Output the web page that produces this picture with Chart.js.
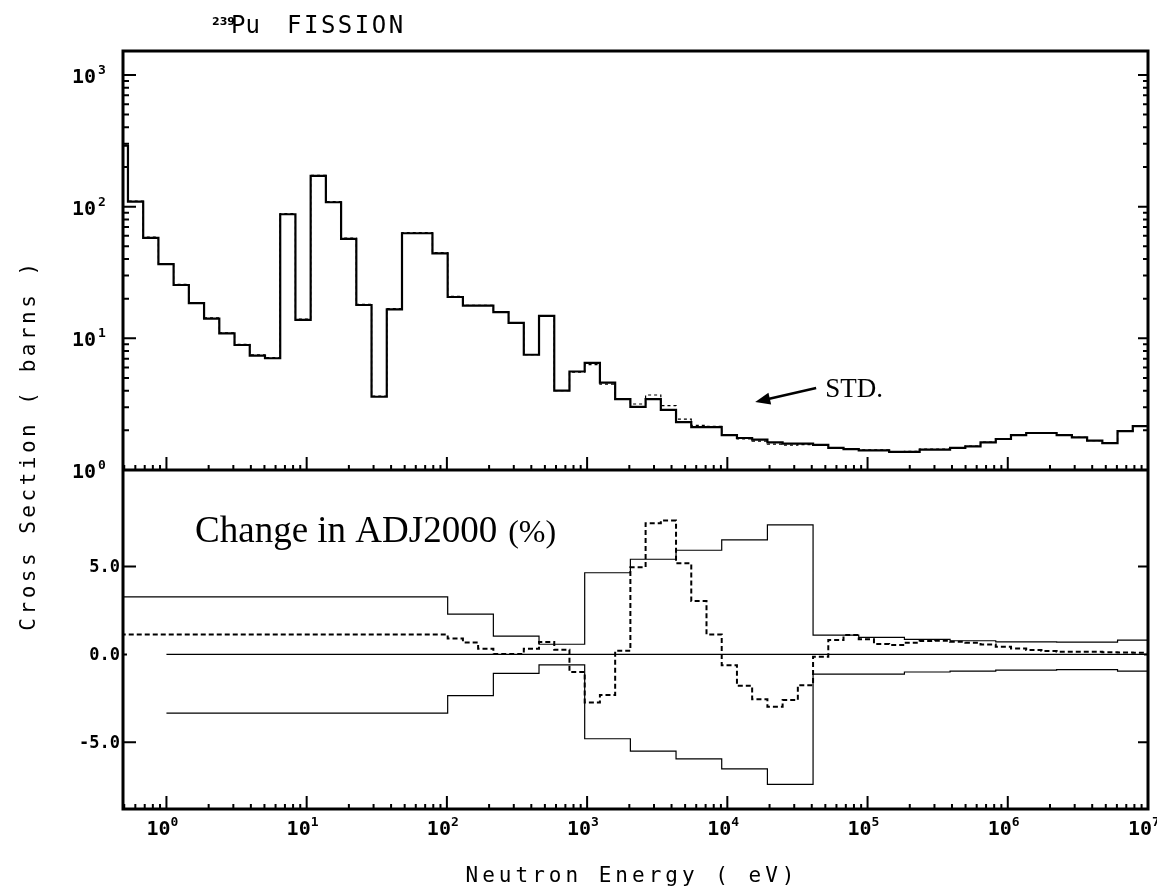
<!DOCTYPE html>
<html>
<head>
<meta charset="utf-8">
<title>239Pu fission</title>
<script src="https://cdn.jsdelivr.net/npm/chart.js@4.4.1/dist/chart.umd.min.js"></script>
<style>
    html, body { margin: 0; padding: 0; background: #fff; }
    #wrap { position: relative; width: 1157px; height: 894px; }
</style>
</head>
<body>
<div id="wrap"><canvas id="fissionChart" width="1157" height="894"></canvas></div>
<script>
// group boundaries (eV), group 1 = highest energy
const groupEdges = [
    1.0e7, 7.788e6, 6.065e6, 4.724e6, 3.679e6, 2.865e6, 2.231e6, 1.738e6, 1.353e6, 1.054e6,
    8.208e5, 6.393e5, 4.979e5, 3.877e5, 3.020e5, 2.352e5, 1.832e5, 1.426e5, 1.111e5, 8.652e4,
    6.738e4, 5.248e4, 4.087e4, 3.183e4, 2.479e4, 1.931e4, 1.503e4, 1.171e4, 9.119e3, 7.102e3,
    5.531e3, 4.307e3, 3.355e3, 2.613e3, 2.035e3, 1.585e3, 1.234e3, 961.1, 748.5, 583.0,
    454.0, 353.6, 275.4, 214.5, 167.0, 130.1, 101.3, 78.89, 61.44, 47.85,
    37.27, 29.02, 22.60, 17.60, 13.71, 10.68, 8.315, 6.476, 5.044, 3.928,
    3.059, 2.382, 1.855, 1.445, 1.125, 0.8764, 0.6826, 0.5316, 0.4140
];

// 239Pu fission cross section, standard (barns), groups 1..68
const stdFission = [
    2.15, 1.97, 1.60, 1.67, 1.77, 1.84, 1.91, 1.91, 1.84, 1.72,
    1.62, 1.51, 1.47, 1.43, 1.43, 1.375, 1.375, 1.41, 1.41, 1.44,
    1.47, 1.55, 1.585, 1.585, 1.62, 1.70, 1.75, 1.84, 2.12, 2.12,
    2.31, 2.86, 3.45, 3.02, 3.45, 4.6, 6.5, 5.6, 4.0, 14.8,
    7.5, 13.1, 15.8, 17.7, 17.7, 20.6, 44.2, 62.8, 62.8, 16.6,
    3.6, 17.9, 57, 108, 171, 13.8, 87.5, 7.06, 7.4, 8.9,
    10.9, 14.1, 18.5, 25.4, 36.6, 58, 109, 290
];

// adjusted cross section (dotted in the upper panel)
const adjFission = [
    2.15, 1.97, 1.60, 1.67, 1.77, 1.84, 1.91, 1.91, 1.85, 1.73,
    1.63, 1.52, 1.48, 1.44, 1.44, 1.385, 1.38, 1.42, 1.42, 1.455,
    1.48, 1.55, 1.557, 1.544, 1.572, 1.657, 1.719, 1.83, 2.144, 2.184,
    2.43, 3.08, 3.71, 3.17, 3.46, 4.49, 6.32, 5.54, 4.01, 14.9,
    7.52, 13.1, 15.8, 17.76, 17.82, 20.8, 44.7, 63.5, 63.5, 16.8,
    3.64, 18.1, 57.6, 109, 173, 14.0, 88.5, 7.14, 7.48, 9.0,
    11.0, 14.3, 18.7, 25.7, 37.0, 58.7, 110, 293
];

// change in ADJ2000 (%)
const changePct = [
    0.10, 0.11, 0.13, 0.15, 0.15, 0.15, 0.19, 0.25, 0.34, 0.44,
    0.57, 0.67, 0.72, 0.78, 0.76, 0.67, 0.53, 0.59, 0.86, 1.10,
    0.82, -0.13, -1.75, -2.60, -2.98, -2.55, -1.79, -0.61, 1.14, 3.04,
    5.19, 7.62, 7.47, 4.97, 0.21, -2.31, -2.73, -1.00, 0.26, 0.71,
    0.33, 0.03, 0.03, 0.33, 0.68, 0.90, 1.14, 1.14, 1.14, 1.14,
    1.14, 1.14, 1.14, 1.14, 1.14, 1.14, 1.14, 1.14, 1.14, 1.14,
    1.14, 1.14, 1.14, 1.14, 1.14, 1.14, 1.14, 1.14
];

// uncertainty band (%)
const uncUpper = [
    0.82, 0.82, 0.70, 0.70, 0.70, 0.70, 0.72, 0.72, 0.72, 0.72,
    0.78, 0.78, 0.78, 0.86, 0.86, 0.86, 0.97, 0.97, 0.97, 1.10,
    1.10, 1.10, 7.38, 7.38, 7.38, 6.52, 6.52, 6.52, 5.93, 5.93,
    5.93, 5.42, 5.42, 5.42, 4.65, 4.65, 4.65, 0.58, 0.58, 0.58,
    1.04, 1.04, 1.04, 2.30, 2.30, 2.30, 3.28, 3.28, 3.28, 3.28,
    3.28, 3.28, 3.28, 3.28, 3.28, 3.28, 3.28, 3.28, 3.28, 3.28,
    3.28, 3.28, 3.28, 3.28, 3.28, 3.28, 3.28, 3.28
];
const uncLower = [
    -0.95, -0.95, -0.86, -0.86, -0.86, -0.86, -0.89, -0.89, -0.89, -0.89,
    -0.95, -0.95, -0.95, -1.00, -1.00, -1.00, -1.12, -1.12, -1.12, -1.12,
    -1.12, -1.12, -7.40, -7.40, -7.40, -6.52, -6.52, -6.52, -5.95, -5.95,
    -5.95, -5.51, -5.51, -5.51, -4.80, -4.80, -4.80, -0.60, -0.60, -0.60,
    -1.08, -1.08, -1.08, -2.34, -2.34, -2.34, -3.34, -3.34, -3.34, -3.34,
    -3.34, -3.34, -3.34, -3.34, -3.34, -3.34, -3.34, -3.34, -3.34, -3.34,
    -3.34, -3.34, -3.34, -3.34, -3.34
];
const lowerStartE = 1.0;
const zeroLineE = [1.0, 1.0e7];

// axis ticks
const xDecadeExps = [0, 1, 2, 3, 4, 5, 6, 7];
const yTopDecadeExps = [0, 1, 2, 3];
const yBotTicks = [-5, 0, 5];
const yBotTickLabels = ['-5.0', '0.0', '5.0'];


// step points: one point at each lower edge, plus the top edge
function histogramPoints(values, startE) {
    const pts = [];
    for (let i = values.length - 1; i >= 0; i--) {
        if (startE && groupEdges[i] <= startE) continue;
        const lo = groupEdges[i + 1];
        pts.push({ x: startE ? Math.max(lo, startE) : lo, y: values[i] });
    }
    pts.push({ x: groupEdges[0], y: values[0] });
    return pts;
}

function stepLine(data, axis, width, dash) {
    return {
        data: data,
        yAxisID: axis,
        borderColor: '#000',
        borderWidth: width,
        borderDash: dash || [],
        stepped: 'before',
        pointRadius: 0,
        fill: false,
    };
}

const MONO = '"DejaVu Sans Mono", "Liberation Mono", monospace';
const SERIF = '"Liberation Serif", "Times New Roman", serif';

const frameAndLabels = {
    id: 'frameAndLabels',
    afterDraw(chart) {
        const ctx = chart.ctx;
        const xs = chart.scales.x, yt = chart.scales.yTop, yb = chart.scales.yBot;
        const left = chart.chartArea.left, right = chart.chartArea.right;
        const top = yt.top, mid = yt.bottom, bottom = yb.bottom;

        ctx.save();
        ctx.strokeStyle = '#000';
        ctx.fillStyle = '#000';

        // frame of both panels
        ctx.lineWidth = 3;
        ctx.strokeRect(left, top, right - left, bottom - top);
        ctx.beginPath();
        ctx.moveTo(left, mid);
        ctx.lineTo(right, mid);
        ctx.stroke();

        // x ticks on the lower edge of each panel
        ctx.lineWidth = 2;
        ctx.beginPath();
        for (let e = -1; e <= 7; e++) {
            for (let m = 1; m <= 9; m++) {
                const v = m * Math.pow(10, e);
                if (v < xs.min || v > xs.max * 1.0001) continue;
                const px = xs.getPixelForValue(v);
                const len = m === 1 ? 13 : 5;
                [mid, bottom].forEach(yy => {
                    ctx.moveTo(px, yy);
                    ctx.lineTo(px, yy - len);
                });
            }
        }
        // log y ticks, upper panel
        for (let e = 0; e <= 3; e++) {
            for (let m = 1; m <= 9; m++) {
                const v = m * Math.pow(10, e);
                if (v > yt.max) continue;
                const py = yt.getPixelForValue(v);
                ctx.moveTo(left, py);
                ctx.lineTo(left + (m === 1 ? 13 : 6), py);
                ctx.moveTo(right, py);
                ctx.lineTo(right - (m === 1 ? 10 : 5), py);
            }
        }
        // linear y ticks, lower panel
        yBotTicks.forEach(v => {
            const py = yb.getPixelForValue(v);
            ctx.moveTo(left, py);
            ctx.lineTo(left + (v === 0 ? 4 : 13), py);
            ctx.moveTo(right, py);
            ctx.lineTo(right - (v === 0 ? 4 : 10), py);
        });
        ctx.stroke();

        // x tick labels
        xDecadeExps.forEach(e => {
            const px = xs.getPixelForValue(Math.pow(10, e));
            ctx.font = 'bold 20px ' + MONO;
            ctx.textAlign = 'center';
            ctx.textBaseline = 'alphabetic';
            ctx.fillText('10', px - 8, 835);
            ctx.font = 'bold 13px ' + MONO;
            ctx.textAlign = 'left';
            ctx.fillText(String(e), px + 4, 826);
        });

        // upper panel y tick labels
        yTopDecadeExps.forEach(e => {
            const py = yt.getPixelForValue(Math.pow(10, e));
            ctx.font = 'bold 20px ' + MONO;
            ctx.textAlign = 'center';
            ctx.fillText('10', 84, py + 8);
            ctx.font = 'bold 13px ' + MONO;
            ctx.textAlign = 'left';
            ctx.fillText(String(e), 98, py - 1);
        });

        // lower panel y tick labels
        ctx.font = 'bold 17px ' + MONO;
        ctx.textAlign = 'right';
        ctx.textBaseline = 'middle';
        yBotTicks.forEach((v, i) => {
            ctx.fillText(yBotTickLabels[i], 120, yb.getPixelForValue(v) + 1);
        });

        // title
        ctx.textBaseline = 'alphabetic';
        ctx.textAlign = 'left';
        ctx.font = 'bold 11px "DejaVu Sans", sans-serif';
        ctx.fillText('239', 212, 25);
        ctx.font = '24px ' + MONO;
        ctx.fillText('Pu', 231, 33);
        ctx.letterSpacing = '2.5px';
        ctx.fillText('FISSION', 287, 33);

        // axis titles
        ctx.font = '21px ' + MONO;
        ctx.letterSpacing = '4px';
        ctx.textAlign = 'center';
        ctx.fillText('Neutron Energy ( eV)', 632, 882);
        ctx.save();
        ctx.translate(30, 445);
        ctx.rotate(-Math.PI / 2);
        ctx.letterSpacing = '3.5px';
        ctx.textBaseline = 'middle';
        ctx.fillText('Cross Section ( barns )', 0, 0);
        ctx.restore();
        ctx.letterSpacing = '0px';

        // annotations
        ctx.textAlign = 'left';
        ctx.textBaseline = 'alphabetic';
        ctx.font = '37px ' + SERIF;
        const cx = xs.getPixelForValue(1.6), cy = yb.getPixelForValue(6.4);
        ctx.fillText('Change in ADJ2000', cx, cy);
        const w = ctx.measureText('Change in ADJ2000').width;
        ctx.font = '32px ' + SERIF;
        ctx.fillText('(%)', cx + w + 11, cy);

        ctx.font = '27px ' + SERIF;
        ctx.fillText('STD.', xs.getPixelForValue(5.0e4), yt.getPixelForValue(3.58));

        const tx = xs.getPixelForValue(4.3e4), ty = yt.getPixelForValue(4.2);
        const hx = xs.getPixelForValue(1.58e4), hy = yt.getPixelForValue(3.28);
        const ang = Math.atan2(hy - ty, hx - tx);
        ctx.lineWidth = 2.5;
        ctx.beginPath();
        ctx.moveTo(tx, ty);
        ctx.lineTo(hx - 10 * Math.cos(ang), hy - 10 * Math.sin(ang));
        ctx.stroke();
        ctx.beginPath();
        ctx.moveTo(hx, hy);
        ctx.lineTo(hx - 15 * Math.cos(ang) + 6 * Math.sin(ang), hy - 15 * Math.sin(ang) - 6 * Math.cos(ang));
        ctx.lineTo(hx - 15 * Math.cos(ang) - 6 * Math.sin(ang), hy - 15 * Math.sin(ang) + 6 * Math.cos(ang));
        ctx.closePath();
        ctx.fill();

        ctx.restore();
    }
};

const ctx = document.getElementById('fissionChart').getContext('2d');
new Chart(ctx, {
    type: 'line',
    data: {
        datasets: [
            stepLine(histogramPoints(stdFission), 'yTop', 2.2),
            stepLine(histogramPoints(adjFission), 'yTop', 1.2, [3, 3]),
            stepLine(histogramPoints(uncUpper), 'yBot', 1.2),
            stepLine(histogramPoints(uncLower, lowerStartE), 'yBot', 1.2),
            stepLine(zeroLineE.map(e => ({ x: e, y: 0 })), 'yBot', 1.2),
            stepLine(histogramPoints(changePct), 'yBot', 2, [5, 3]),
        ],
    },
    options: {
        responsive: false,
        animation: false,
        devicePixelRatio: 1,
        layout: { padding: { left: 123, right: 9, top: 51, bottom: 85 } },
        plugins: {
            legend: { display: false },
            title: { display: false },
            tooltip: { enabled: false },
        },
        scales: {
            x: { type: 'logarithmic', min: 0.49, max: 1e7, display: false },
            yTop: {
                type: 'logarithmic', position: 'left', stack: 'panels',
                stackWeight: 419, weight: 2, min: 1, max: 1520, display: false,
            },
            yBot: {
                type: 'linear', position: 'left', stack: 'panels',
                stackWeight: 339, weight: 1, min: -8.8, max: 10.5, display: false,
            },
        },
    },
    plugins: [frameAndLabels],
});
</script>
</body>
</html>
